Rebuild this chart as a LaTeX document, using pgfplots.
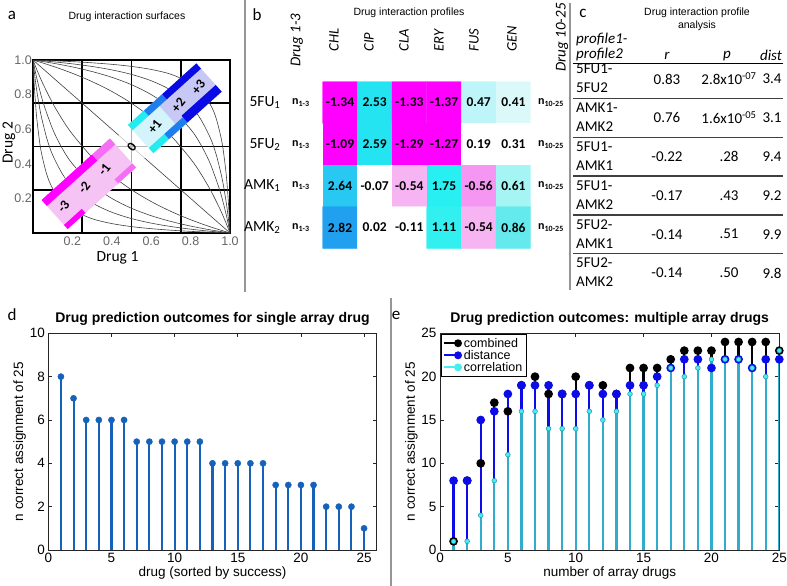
\documentclass[border=0pt]{standalone}
\usepackage{pgfplots}
\pgfplotsset{compat=1.18}
\usepackage{fontspec}
\setmainfont{Carlito}
\newfontfamily\arial{Liberation Sans}
\newcommand\fs[1]{\fontsize{#1}{#1}\selectfont}
\definecolor{dstem}{RGB}{22,98,186}
\definecolor{cblue}{RGB}{12,12,232}
\definecolor{ccyan}{RGB}{70,238,240}
\definecolor{cstem}{RGB}{50,172,205}
\definecolor{cedge}{RGB}{40,150,170}
\definecolor{mag}{RGB}{255,0,255}
\definecolor{pinkfill}{RGB}{246,196,244}
\definecolor{lmag}{RGB}{245,110,245}
\definecolor{lcyanf}{RGB}{212,244,252}
\definecolor{lavf}{RGB}{200,200,244}
\definecolor{bcyan}{RGB}{34,236,240}
\definecolor{bmid}{RGB}{30,126,240}
\definecolor{bdeep}{RGB}{10,10,228}
\definecolor{sep}{RGB}{150,150,150}
\pgfplotsset{
 matlab/.style={scale only axis, tick align=inside, xtick pos=both, ytick pos=both,
  major tick length=4pt, axis line style={black!85, line width=0.6pt},
  every tick/.style={black!85, line width=0.6pt},
  tick label style={font=\arial\fs{13.5}}, /pgf/number format/assume math mode=true,
  label style={font=\arial\fs{13.5}},
  title style={font=\arial\bfseries\fs{14}, inner sep=2pt}}
}
\begin{document}
\begin{tikzpicture}[x=1pt,y=1pt]
\useasboundingbox (0,0) rectangle (787,-586);

% separators
\draw[sep, line width=1.3pt] (245,0) -- (245,-292);
\draw[sep, line width=1.3pt] (570,-3) -- (570,-290);
\draw[sep, line width=1.3pt] (391,-298) -- (391,-586);

% ---------------- panel a ----------------
\node[font=\fs{17}] at (12,-15) {a};
\node[font=\arial\fs{10.5}] at (127,-17) {Drug interaction surfaces};
\begin{axis}[at={(33pt,-60pt)}, anchor=north west, scale only axis, width=197pt, height=173pt,
 xmin=0, xmax=1, ymin=0, ymax=1, no markers,
 xtick={0.2,0.4,0.6,0.8,1}, ytick={0.2,0.4,0.6,0.8,1},
 xticklabels={0.2,0.4,0.6,0.8,1.0}, yticklabels={0.2,0.4,0.6,0.8,1.0},
 major tick length=0pt, tick label style={font=\arial\fs{12.5}, text=black!60},
 yticklabel style={inner sep=1pt},
 axis line style={line width=1.8pt},
 extra x ticks={0.25,0.5,0.75}, extra y ticks={0.25,0.5,0.75},
 extra x tick labels={}, extra y tick labels={},
 extra tick style={grid=major, major grid style={line width=1.8pt, black}}]
\addplot[black!75, line width=0.6pt] coordinates {(0,1)(1,0)};
\addplot[smooth, black!75, line width=0.6pt] coordinates {(0,1)(0.02,0.9423)(0.05,0.8636)(0.1,0.75)(0.15,0.6538)(0.2,0.5714)(0.3,0.4375)(0.4,0.3333)(0.5,0.25)(0.6,0.1818)(0.7,0.125)(0.8,0.0769)(0.9,0.0357)(1,0)};
\addplot[smooth, black!75, line width=0.6pt] coordinates {(0,1)(0.01,0.9429)(0.02,0.8909)(0.05,0.76)(0.1,0.6)(0.15,0.4857)(0.2,0.4)(0.3,0.28)(0.4,0.2)(0.5,0.1429)(0.6,0.1)(0.7,0.0667)(0.8,0.04)(0.9,0.0182)(1,0)};
\addplot[smooth, black!75, line width=0.6pt] coordinates {(0,1)(0.01,0.9)(0.02,0.8167)(0.04,0.6857)(0.07,0.5471)(0.1,0.45)(0.15,0.34)(0.2,0.2667)(0.3,0.175)(0.4,0.12)(0.5,0.0833)(0.6,0.0571)(0.7,0.0375)(0.8,0.0222)(0.9,0.01)(1,0)};
\addplot[smooth, black!75, line width=0.6pt] coordinates {(0,1)(0.005,0.8844)(0.01,0.792)(0.02,0.6533)(0.04,0.48)(0.07,0.3382)(0.1,0.2571)(0.15,0.1789)(0.2,0.1333)(0.3,0.0824)(0.4,0.0545)(0.5,0.037)(0.6,0.025)(0.7,0.0162)(0.8,0.0095)(0.9,0.0043)(1,0)};
\addplot[smooth, black!75, line width=0.6pt] coordinates {(1,0)(0.98,0.0577)(0.95,0.1364)(0.9,0.25)(0.85,0.3462)(0.8,0.4286)(0.7,0.5625)(0.6,0.6667)(0.5,0.75)(0.4,0.8182)(0.3,0.875)(0.2,0.9231)(0.1,0.9643)(0,1)};
\addplot[smooth, black!75, line width=0.6pt] coordinates {(1,0)(0.99,0.0571)(0.98,0.1091)(0.95,0.24)(0.9,0.4)(0.85,0.5143)(0.8,0.6)(0.7,0.72)(0.6,0.8)(0.5,0.8571)(0.4,0.9)(0.3,0.9333)(0.2,0.96)(0.1,0.9818)(0,1)};
\addplot[smooth, black!75, line width=0.6pt] coordinates {(1,0)(0.99,0.1)(0.98,0.1833)(0.96,0.3143)(0.93,0.4529)(0.9,0.55)(0.85,0.66)(0.8,0.7333)(0.7,0.825)(0.6,0.88)(0.5,0.9167)(0.4,0.9429)(0.3,0.9625)(0.2,0.9778)(0.1,0.99)(0,1)};
\addplot[smooth, black!75, line width=0.6pt] coordinates {(1,0)(0.995,0.1156)(0.99,0.208)(0.98,0.3467)(0.96,0.52)(0.93,0.6618)(0.9,0.7429)(0.85,0.8211)(0.8,0.8667)(0.7,0.9176)(0.6,0.9455)(0.5,0.963)(0.4,0.975)(0.3,0.9838)(0.2,0.9905)(0.1,0.9957)(0,1)};
\end{axis}
% boxes
\begin{scope}[shift={(131.7,-146.7)}, rotate=42]
 \fill[white, opacity=0.7] (-16,-17) rectangle (16,17);
 \node[rotate=52, font=\bfseries\fs{13.5}, inner sep=0pt] at (0,0) {0};
\end{scope}
\begin{scope}[shift={(88.8,-183.75)}, rotate=42]
 \fill[pinkfill] (-46,-19.5) rectangle (46,19.5);
 \fill[mag] (-46,11.5) rectangle (22,19.5);
 \fill[lmag] (22,11.5) rectangle (46,19.5);
 \fill[mag] (-46,-19.5) rectangle (-22,-14);
 \fill[lmag] (22,-19.5) rectangle (46,-14);
 \node[rotate=52, font=\bfseries\fs{13.5}, inner sep=0pt] at (-34,0) {-3};
 \node[rotate=52, font=\bfseries\fs{13.5}, inner sep=0pt] at (-6,0) {-2};
 \node[rotate=52, font=\bfseries\fs{13.5}, inner sep=0pt] at (21,0) {-1};
\end{scope}
\begin{scope}[shift={(174.85,-108.3)}, rotate=42]
 \fill[lcyanf] (-46,-19) rectangle (-10,19);
 \fill[lavf] (-10,-19) rectangle (46,19);
 \fill[bcyan] (-46,12) rectangle (-24.5,19);
 \fill[bmid] (-24.5,12) rectangle (0,19);
 \fill[bdeep] (0,12) rectangle (46,19);
 \fill[bcyan] (-46,-19) rectangle (-25,-12);
 \fill[bmid] (-25,-19) rectangle (0,-12);
 \fill[bdeep] (0,-19) rectangle (46,-10);
 \node[rotate=52, font=\bfseries\fs{13.5}, inner sep=0pt] at (-27,0) {+1};
 \node[rotate=52, font=\bfseries\fs{13.5}, inner sep=0pt] at (4.7,0) {+2};
 \node[rotate=52, font=\bfseries\fs{13.5}, inner sep=0pt] at (31.8,0) {+3};
\end{scope}
\node[font=\fs{15.5}] at (117.5,-258) {Drug 1};
\node[font=\fs{15.5}, rotate=90] at (9,-143) {Drug 2};

% ---------------- panel b ----------------
\node[font=\fs{17}] at (257,-15) {b};
\node[font=\arial\fs{10.5}] at (409,-13) {Drug interaction profiles};
\node[font=\itshape\fs{15}, rotate=90, anchor=west] at (296.7,-70) {Drug 1-3};
\node[font=\itshape\fs{15}, rotate=90, anchor=west] at (562,-75) {Drug 10-25};
\foreach \lab/\xx in {CHL/334,CIP/369,CLA/404,ERY/439,FUS/474,GEN/512}
  \node[font=\itshape\fs{14.5}, rotate=90, anchor=west] at (\xx,-55) {\lab};
\node[font=\fs{15.5}, anchor=east] at (284,-102.5) {5FU\textsubscript{1}};
\node[font=\fs{15.5}, anchor=east] at (284,-144.2) {5FU\textsubscript{2}};
\node[font=\fs{15.5}, anchor=east] at (284,-185.8) {AMK\textsubscript{1}};
\node[font=\fs{15.5}, anchor=east] at (284,-227.5) {AMK\textsubscript{2}};
\foreach \yy in {102.5,144.2,185.8,227.5}{
  \node[font=\bfseries\fs{12}, anchor=west, inner sep=0pt] at (292,-\yy) {n\textsubscript{1-3}};
  \node[font=\bfseries\fs{12}, anchor=west, inner sep=0pt] at (538,-\yy) {n\textsubscript{10-25}};
}
\begin{axis}[at={(322.7pt,-81.7pt)}, anchor=north west, scale only axis, width=208pt, height=166.7pt,
 xmin=-0.5, xmax=5.5, ymin=-0.5, ymax=3.5, y dir=reverse, hide axis,
 colormap={cells}{rgb255=(255,0,255) rgb255=(36,228,242) rgb255=(190,245,248) rgb255=(220,249,250)
   rgb255=(255,255,255) rgb255=(40,200,242) rgb255=(246,180,242) rgb255=(40,240,242)
   rgb255=(244,150,242) rgb255=(165,245,245) rgb255=(34,160,240) rgb255=(50,240,240) rgb255=(100,234,236)},
 colormap access=direct]
\addplot[matrix plot*, point meta=explicit, mesh/cols=6] table[meta=c] {
x y c
0 0 0
1 0 1
2 0 0
3 0 0
4 0 2
5 0 3
0 1 0
1 1 1
2 1 0
3 1 0
4 1 4
5 1 4
0 2 5
1 2 4
2 2 6
3 2 7
4 2 8
5 2 9
0 3 10
1 3 4
2 3 4
3 3 11
4 3 6
5 3 12
};
\addplot[only marks, mark=none, point meta=explicit symbolic, nodes near coords,
 nodes near coords style={anchor=center, font=\bfseries\fs{13.5}, text=black}] table[meta=v] {
x y v
0 0 -1.34
1 0 2.53
2 0 -1.33
3 0 -1.37
4 0 0.47
5 0 0.41
0 1 -1.09
1 1 2.59
2 1 -1.29
3 1 -1.27
4 1 0.19
5 1 0.31
0 2 2.64
1 2 -0.07
2 2 -0.54
3 2 1.75
4 2 -0.56
5 2 0.61
0 3 2.82
1 3 0.02
2 3 -0.11
3 3 1.11
4 3 -0.54
5 3 0.86
};
\end{axis}

% ---------------- panel c ----------------
\node[font=\fs{17}] at (583,-13) {c};
\node[font=\arial\fs{10.5}] at (697,-13) {Drug interaction profile};
\node[font=\arial\fs{10.5}] at (697,-26) {analysis};
\node[font=\itshape\fs{15}, anchor=west, inner sep=0pt] at (576,-40) {profile1-};
\node[font=\itshape\fs{15}, anchor=west, inner sep=0pt] at (576,-55) {profile2};
\node[font=\itshape\fs{15}] at (667,-56) {r};
\node[font=\itshape\fs{15}] at (727,-56) {p};
\node[font=\itshape\fs{15}] at (771,-55) {dist};
\draw[black, line width=0.8pt] (573,-63) -- (783,-63);
\foreach \i/\a/\b/\r/\p/\d in {0/5FU1-/5FU2/0.83/2.8x10\textsuperscript{-07}/3.4,
  1/AMK1-/AMK2/0.76/1.6x10\textsuperscript{-05}/3.1,
  2/5FU1-/AMK1/-0.22/.28/9.4,
  3/5FU1-/AMK2/-0.17/.43/9.2,
  4/5FU2-/AMK1/-0.14/.51/9.9,
  5/5FU2-/AMK2/-0.14/.50/9.8}{
  \pgfmathsetmacro\yt{69+38.8*\i}
  \node[font=\fs{15}, anchor=west, inner sep=0pt] at (576,-\yt) {\a};
  \node[font=\fs{15}, anchor=west, inner sep=0pt] at (576,-\yt-19) {\b};
  \node[font=\fs{15}] at (667,-\yt-10) {\r};
  \node[font=\fs{15}] at (729,-\yt-10) {\p};
  \node[font=\fs{15}] at (772,-\yt-10) {\d};
}
\foreach \i in {0,...,4}{
  \pgfmathsetmacro\ys{69+38.8*\i+29.5}
  \draw[black!75, line width=1.4pt] (573,-\ys) -- (783,-\ys);
}

% ---------------- panel d ----------------
\node[font=\fs{17}] at (12,-315) {d};
\begin{axis}[matlab, at={(48.3pt,-333.3pt)}, anchor=north west, width=328.4pt, height=216.7pt,
 xmin=0, xmax=26, ymin=0, ymax=10, xtick={0,5,...,25}, ytick={0,2,...,10},
 title={Drug prediction outcomes for single array drug},
 xlabel={drug (sorted by success)}, ylabel={n correct assignment of 25},
 ylabel shift=-3pt, xlabel shift=-3pt]
\addplot[ycomb, dstem, line width=2.1pt, mark=*, mark size=3.1pt, mark options={fill=dstem, line width=0.4pt}] coordinates {
(1,8)(2,7)(3,6)(4,6)(5,6)(6,6)(7,5)(8,5)(9,5)(10,5)(11,5)(12,5)(13,4)(14,4)(15,4)(16,4)(17,4)(18,3)(19,3)(20,3)(21,3)(22,2)(23,2)(24,2)(25,1)};
\end{axis}

% ---------------- panel e ----------------
\node[font=\fs{17}] at (396,-315) {e};
\begin{axis}[matlab, at={(440pt,-333.3pt)}, anchor=north west, width=339.3pt, height=216.7pt,
 xmin=0, xmax=25, ymin=0, ymax=25, xtick={0,5,...,25}, ytick={0,5,...,25},
 title={Drug prediction outcomes: multiple array drugs},
 xlabel={number of array drugs}, ylabel={n correct assignment of 25},
 ylabel shift=-3pt, xlabel shift=-3pt,
 legend style={at={(0.004,0.996)}, anchor=north west, font=\arial\fs{12.5}, inner sep=1.5pt,
   row sep=-2.5pt, draw=black, line width=0.6pt, cells={anchor=west}}]
\addplot[ycomb, black, line width=2.2pt, mark=*, mark size=3.2pt,
 legend image code/.code={\draw[black, line width=1.8pt] (0pt,0pt) -- (14pt,0pt); \fill[black] (14pt,0pt) circle (2.8pt);}] coordinates {
(1,1)(2,8)(3,10)(4,17)(5,16)(6,19)(7,20)(8,18)(9,18)(10,20)(11,19)(12,19)(13,18)(14,21)(15,21)(16,21)(17,22)(18,23)(19,23)(20,23)(21,24)(22,24)(23,24)(24,24)(25,23)};
\addlegendentry{combined}
\addplot[ycomb, cblue, line width=2.2pt, mark=*, mark size=3.2pt,
 legend image code/.code={\draw[cblue, line width=1.8pt] (0pt,0pt) -- (14pt,0pt); \fill[cblue] (14pt,0pt) circle (2.8pt);}] coordinates {
(1,8)(2,8)(3,15)(4,16)(5,18)(6,19)(7,19)(8,19)(9,18)(10,18)(11,19)(12,18)(13,18)(14,19)(15,19)(16,20)(17,21)(18,22)(19,22)(20,21)(21,22)(22,22)(23,21)(24,22)(25,22)};
\addlegendentry{distance}
\addplot[ycomb, cstem, line width=2.2pt, mark=*, mark size=2.4pt, mark options={fill=ccyan, draw=cedge, line width=0.5pt},
 legend image code/.code={\draw[ccyan, line width=1.8pt] (0pt,0pt) -- (14pt,0pt); \fill[ccyan] (14pt,0pt) circle (2.8pt);}] coordinates {
(1,1)(2,1)(3,4)(4,8)(5,11)(6,16)(7,16)(8,14)(9,14)(10,14)(11,16)(12,15)(13,16)(14,18)(15,18)(16,19)(17,21)(18,20)(19,21)(20,22)(21,22)(22,22)(23,21)(24,20)(25,23)};
\addlegendentry{correlation}
\end{axis}
\end{tikzpicture}
\end{document}
